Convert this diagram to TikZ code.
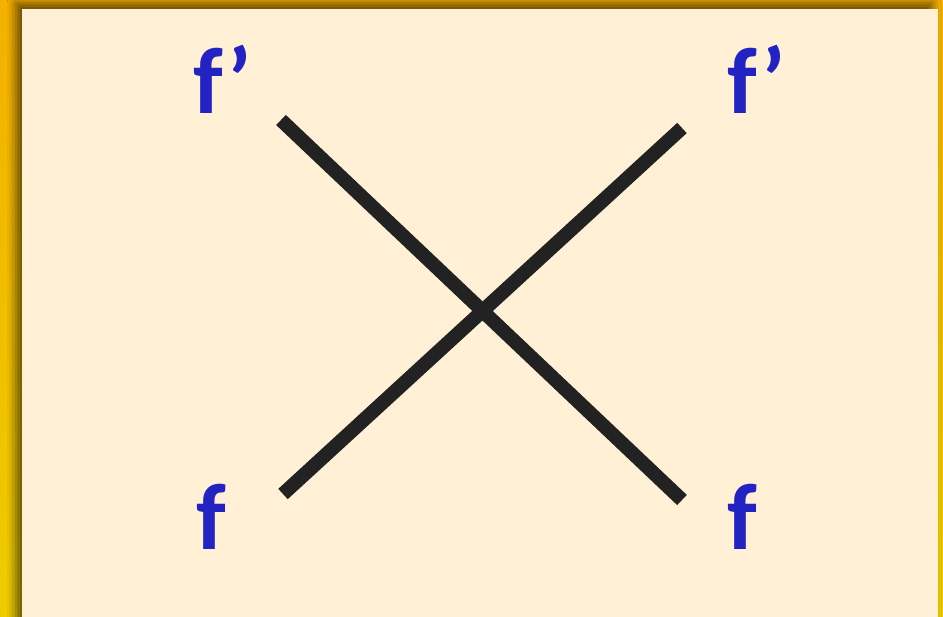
\documentclass[tikz,border=0pt]{standalone}
\usepackage{fontspec}
\setmainfont{Carlito}
\usetikzlibrary{shadows.blur}
\definecolor{panel}{HTML}{FFF0D6}
\definecolor{lbl}{HTML}{2323C4}
\definecolor{stroke}{HTML}{222222}
\definecolor{outtop}{HTML}{F5B000}
\definecolor{outbot}{HTML}{EECC00}
\tikzset{
  lab/.style={text=lbl, font=\fontsize{94}{94}\selectfont\bfseries, inner sep=0pt},
  bar/.style={draw=stroke, line width=14pt}
}
\begin{document}
\begin{tikzpicture}[x=1pt,y=-1pt]
\useasboundingbox (0,0) rectangle (943,617);
\shade[top color=outtop, bottom color=outbot] (0,0) rectangle (943,617);
\fill[panel, blur shadow={shadow xshift=-6pt, shadow yshift=6pt, shadow blur radius=9pt, shadow opacity=60}] (22,9) rectangle (938,640);
\node[lab] (tl) at (223,79) {f’};
\node[lab] (tr) at (757,79) {f’};
\node[lab] (bl) at (211,517) {f};
\node[lab] (br) at (742,517) {f};
\coordinate (a1) at (281,120);
\coordinate (a2) at (682,500);
\coordinate (b1) at (283,494);
\coordinate (b2) at (682,128);
\draw[bar] (a1) -- (a2);
\draw[bar] (b1) -- (b2);
\end{tikzpicture}
\end{document}
